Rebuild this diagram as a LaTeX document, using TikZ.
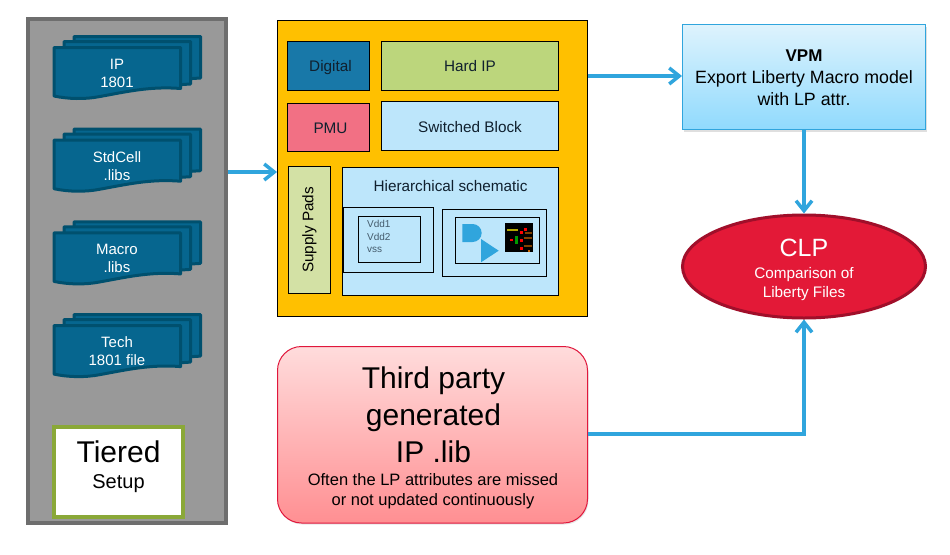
\documentclass[tikz,border=0pt]{standalone}
\usepackage{fontspec}
\setmainfont{Liberation Sans}
\usetikzlibrary{fit,arrows.meta,shadows,shapes.geometric}
\definecolor{flow}{HTML}{30A5DD}
\definecolor{panelfill}{HTML}{999999}
\definecolor{paneledge}{HTML}{6E6E6E}
\definecolor{docfill}{HTML}{06668F}
\definecolor{docedge}{HTML}{00506E}
\definecolor{tieredge}{HTML}{8AA838}
\definecolor{orangebg}{HTML}{FFC000}
\definecolor{digitalc}{HTML}{1878A8}
\definecolor{hardc}{HTML}{BCD67C}
\definecolor{pmuc}{HTML}{F27084}
\definecolor{skyc}{HTML}{BDE6FB}
\definecolor{padc}{HTML}{D3E1A5}
\definecolor{clpc}{HTML}{E31937}
\definecolor{clpe}{HTML}{A00F2A}
\definecolor{txt}{HTML}{10202E}
\definecolor{VPMtop}{HTML}{DEF3FD}
\definecolor{VPMbot}{HTML}{90DAFD}
\definecolor{TPtop}{HTML}{FFDCDC}
\definecolor{TPbot}{HTML}{FF8F92}
\definecolor{TPedge}{HTML}{E0173C}
\newcommand{\fs}[2]{\fontsize{#1}{#2}\selectfont}
\tikzset{
  box/.style={draw=black,line width=1pt,inner sep=0pt},
  wire/.style={draw=black,line width=1pt,inner sep=0pt},
  flowline/.style={draw=flow,line width=4pt,line join=miter,-{Straight Barb[length=10pt,width=16pt,line width=3.5pt]}},
  sheet/.style={draw=docedge,fill=docfill,line width=3pt,line join=round},
  doctext/.style={text=white,font=\fs{15}{18},align=center,inner sep=0pt},
  lab/.style={anchor=base,inner sep=0pt,text=txt,font=\fs{15.3}{18}},
  blk/.style={anchor=base,inner sep=0pt,text=black},
}
\newcommand{\docstack}[4]{%
 \begin{scope}[shift={(0,#1)}]
  \draw[sheet] (74,36.5) -- (200.5,36.5) -- (200.5,78) -- (185,79) -- (74,79) -- cycle;
  \draw[sheet] (64,41.5) -- (190.5,41.5) -- (190.5,84) -- (175,85) -- (64,85) -- cycle;
  \draw[sheet] (54,47.5) -- (180.5,47.5) -- (180.5,88.5)
     .. controls (150,86) and (125,92) .. (100,96.5)
     .. controls (85,99.5) and (68,99) .. (54,96) -- cycle;
  \node[doctext] (#2) at (117,#3) {#4};
 \end{scope}}
\begin{document}
\begin{tikzpicture}[x=1pt,y=-1pt]
\useasboundingbox (0,0) rectangle (950,554);
\fill[white] (0,0) rectangle (950,554);
% left panel
\node[fit={(28,19)(226,523)},inner sep=0pt,draw=paneledge,fill=panelfill,line width=4pt] (panel) {};
\docstack{0}{ip}{73}{IP\\1801}
\docstack{92.7}{std}{73}{StdCell\\.libs}
\docstack{185.4}{mac}{73}{Macro\\.libs}
\docstack{278.1}{tech}{73}{Tech\\1801 file}
\node[fit={(54,427)(183,517)},inner sep=0pt,draw=tieredge,fill=white,line width=4pt] (tier) {};
\node[blk,font=\fs{30}{30}] (tiert) at (118.5,462) {Tiered};
\node[blk,font=\fs{20}{24}] (setupt) at (118.5,488) {Setup};
% central block
\node[fit={(277.5,20.5)(587,316.5)},wire,fill=orangebg] (chip) {};
\node[fit={(287.5,41.5)(369.5,90.5)},box,fill=digitalc] (dig) {};
\node[lab] (digt) at (330.5,71.5) {Digital};
\node[fit={(381.5,41.5)(558.5,90.5)},box,fill=hardc] (hard) {};
\node[lab] (hardt) at (470,71.5) {Hard IP};
\node[fit={(287.5,103.5)(369.5,151.5)},box,fill=pmuc] (pmu) {};
\node[lab] (pmut) at (330.5,133.5) {PMU};
\node[fit={(381.5,101.5)(558.5,150.5)},box,fill=skyc] (sw) {};
\node[lab] (swt) at (470,132.5) {Switched Block};
\node[fit={(288.5,166.5)(330.5,293.5)},box,fill=padc] (pads) {};
\node[rotate=90,text=black,font=\fs{15.3}{18},inner sep=0pt] (padtext) at (309.5,230) {Supply Pads};
\node[fit={(342.5,167.5)(558.5,295.5)},box,fill=skyc] (hier) {};
\node[lab] (hiert) at (450.5,191) {Hierarchical schematic};
\node[fit={(343.5,207.5)(433.5,272.5)},wire] (boxa) {};
\node[fit={(358.5,216.5)(420.5,262.5)},wire] (boxai) {};
\node[anchor=north west,text=txt!70!skyc,font=\fs{10}{12.7},align=left,inner sep=0pt] (pins) at (367,220) {Vdd1\\Vdd2\\vss};
\node[fit={(442.5,209.5)(546.5,276.5)},wire] (boxb) {};
\node[fit={(455.5,217.5)(539.5,263.5)},wire] (boxbi) {};
\fill[flow] (462.3,224) -- (472.5,224) .. controls (477.5,224) and (481.7,228) .. (481.7,233) .. controls (481.7,238) and (477.5,242) .. (472.5,242) -- (462.3,242) -- cycle;
\fill[flow] (481,239) -- (498.7,250.7) -- (481,262.3) -- cycle;
\fill[black] (505,223) rectangle (533,252);
\fill[olive!70!yellow] (507,229) rectangle (518,230.5);
\fill[red] (520,231) rectangle (522.5,233.5);
\fill[red] (524,228) rectangle (526.5,230.5);
\fill[red] (510,238.5) rectangle (512.5,241);
\fill[red] (520,239) rectangle (522.5,241.5);
\fill[red] (520,247) rectangle (522.5,249.5);
\fill[green!60!black] (515,236) rectangle (518,244);
\fill[orange!50!black] (525,232) rectangle (532,234);
\fill[orange!50!black] (524,237) rectangle (532,238.5);
\fill[orange!50!black] (524,245) rectangle (532,247);
\fill[orange!80!black] (528,250) rectangle (530,252);
% VPM
\node[fit={(682.5,24.5)(925.5,129.5)},inner sep=0pt,draw=flow,line width=1pt,top color=VPMtop,bottom color=VPMbot,drop shadow={shadow xshift=1pt,shadow yshift=-2pt,opacity=.25}] (vpm) {};
\node[blk,font=\bfseries\fs{17}{22}] (vpmt) at (804,61.7) {VPM};
\node[blk,font=\fs{17.8}{22}] (vpmb) at (804,83.3) {Export Liberty Macro model};
\node[blk,font=\fs{17.8}{22}] (vpmc) at (804,105) {with LP attr.};
% CLP
\node[ellipse,inner sep=0pt,minimum width=243pt,minimum height=103pt,draw=clpe,line width=3pt,fill=clpc] (clp) at (804,266.5) {};
\node[blk,text=white,font=\fs{25}{30}] (clpt) at (804,256.7) {CLP};
\node[blk,text=white,font=\fs{15.3}{19}] (clpb) at (804,278) {Comparison of};
\node[blk,text=white,font=\fs{15.3}{19}] (clpd) at (804,297) {Liberty Files};
% Third party
\node[fit={(277.5,346.5)(587.5,523)},inner sep=0pt,draw=TPedge,line width=1pt,rounded corners=24pt,top color=TPtop,bottom color=TPbot,drop shadow={shadow xshift=1pt,shadow yshift=-1.5pt,opacity=.2}] (third) {};
\node[blk,font=\fs{30}{36}] (tpa) at (433.5,388) {Third party};
\node[blk,font=\fs{30}{36}] (tpb) at (433.5,425) {generated};
\node[blk,font=\fs{30}{36}] (tpc) at (433.5,462.5) {IP .lib};
\node[blk,font=\fs{16.5}{20}] (tpd) at (433,485.7) {Often the LP attributes are missed};
\node[blk,font=\fs{16.5}{20}] (tpe) at (433,505.7) {or not updated continuously};
% connectors
\coordinate (panelout) at (panel.east |- 0,172);
\coordinate (chipin) at (chip.west |- 0,172);
\coordinate (chipout) at (chip.east |- 0,76);
\coordinate (vpmin) at (vpm.west |- 0,76);
\coordinate (thirdout) at (third.east |- 0,434);
\coordinate (bend) at (clp.south |- 0,434);
\draw[flowline] (panelout) -- (chipin);
\draw[flowline] (chipout) -- (vpmin);
\draw[flowline] (vpm.south -| clp.north) -- (clp.north);
\draw[flowline] (thirdout) -- (bend) -- (clp.south);
\end{tikzpicture}
\end{document}
